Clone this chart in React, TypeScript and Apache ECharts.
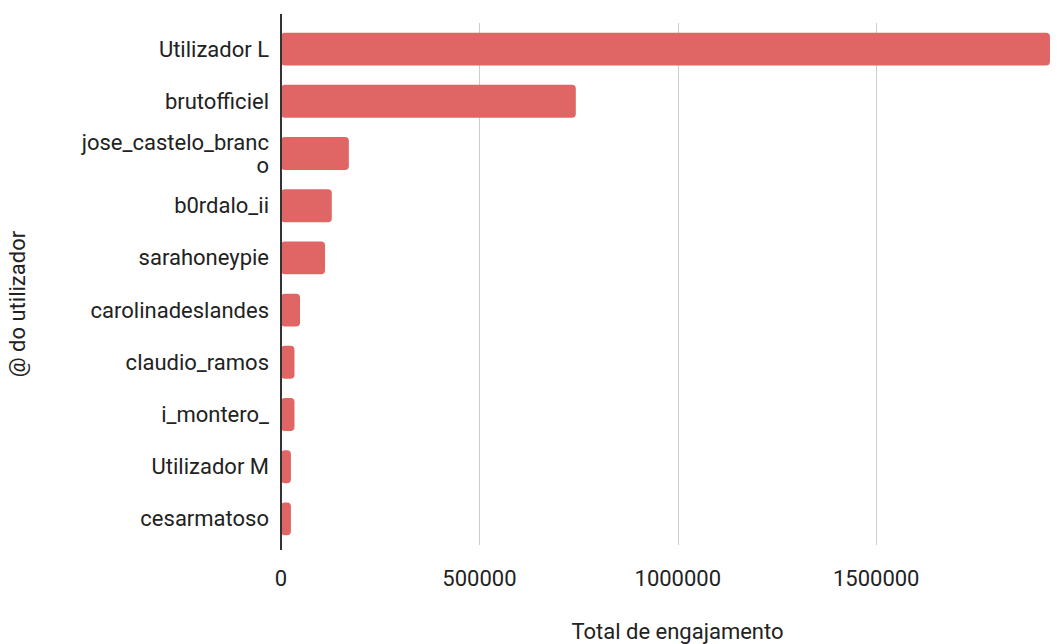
import React, { useEffect, useRef } from "react";
import * as echarts from "echarts";

const categories: string[] = [
  "Utilizador L",
  "brutofficiel",
  "jose_castelo_branco",
  "b0rdalo_ii",
  "sarahoneypie",
  "carolinadeslandes",
  "claudio_ramos",
  "i_montero_",
  "Utilizador M",
  "cesarmatoso",
];

const engagement: number[] = [
  1938000, 743000, 171000, 128000, 111000, 48000, 34000, 34000, 25000, 25000,
];

const xTicks: number[] = [0, 500000, 1000000, 1500000];

const xAxisTitle = "Total de engajamento";
const yAxisTitle = "@ do utilizador";

export default function App() {
  const ref = useRef<HTMLDivElement>(null);

  useEffect(() => {
    document.body.style.margin = "0";
    if (!ref.current) return;
    const chart = echarts.init(ref.current, null, { renderer: "svg" });
    const font = "Roboto, 'Noto Sans', sans-serif";
    chart.setOption({
      animation: false,
      backgroundColor: "#ffffff",
      grid: {
        left: 281,
        right: 10,
        top: 23,
        bottom: 99,
        containLabel: false,
        outerBoundsMode: "none",
      },
      xAxis: {
        type: "value",
        min: 0,
        max: 1938000,
        interval: 500000,
        name: xAxisTitle,
        nameLocation: "middle",
        nameGap: 75,
        nameTextStyle: { color: "#222222", fontSize: 22, fontFamily: font, padding: [0, 0, 0, 24] },
        axisLine: { show: false },
        axisTick: { show: false },
        axisLabel: {
          color: "#222222",
          fontSize: 22,
          fontFamily: font,
          margin: 22,
          showMaxLabel: false,
          formatter: (v: number) => (xTicks.indexOf(v) >= 0 ? String(v) : ""),
        },
        splitLine: {
          show: true,
          showMaxLine: false,
          lineStyle: { color: "#cccccc", width: 1 },
        },
      },
      yAxis: {
        type: "category",
        data: categories,
        inverse: true,
        name: yAxisTitle,
        nameLocation: "middle",
        nameGap: 253,
        nameRotate: 90,
        nameTextStyle: { color: "#222222", fontSize: 22, fontFamily: font, padding: [0, 40, 0, 0] },
        axisLine: { show: true, lineStyle: { color: "#333333", width: 2 } },
        axisTick: { show: false },
        axisLabel: {
          color: "#222222",
          fontSize: 22,
          fontFamily: font,
          margin: 12,
          lineHeight: 23,
          width: 196,
          overflow: "breakAll",
        },
        splitLine: { show: false },
      },
      graphic: [
        {
          type: "line",
          shape: { x1: 281, y1: 14, x2: 281, y2: 550 },
          style: { stroke: "#333333", lineWidth: 2 },
          z: 10,
        },
      ],
      series: [
        {
          type: "bar",
          data: engagement,
          barCategoryGap: "37%",
          itemStyle: { color: "#e06666", borderRadius: 4 },
        },
      ],
    });
    return () => chart.dispose();
  }, []);

  return <div ref={ref} style={{ width: 1060, height: 644 }} />;
}
